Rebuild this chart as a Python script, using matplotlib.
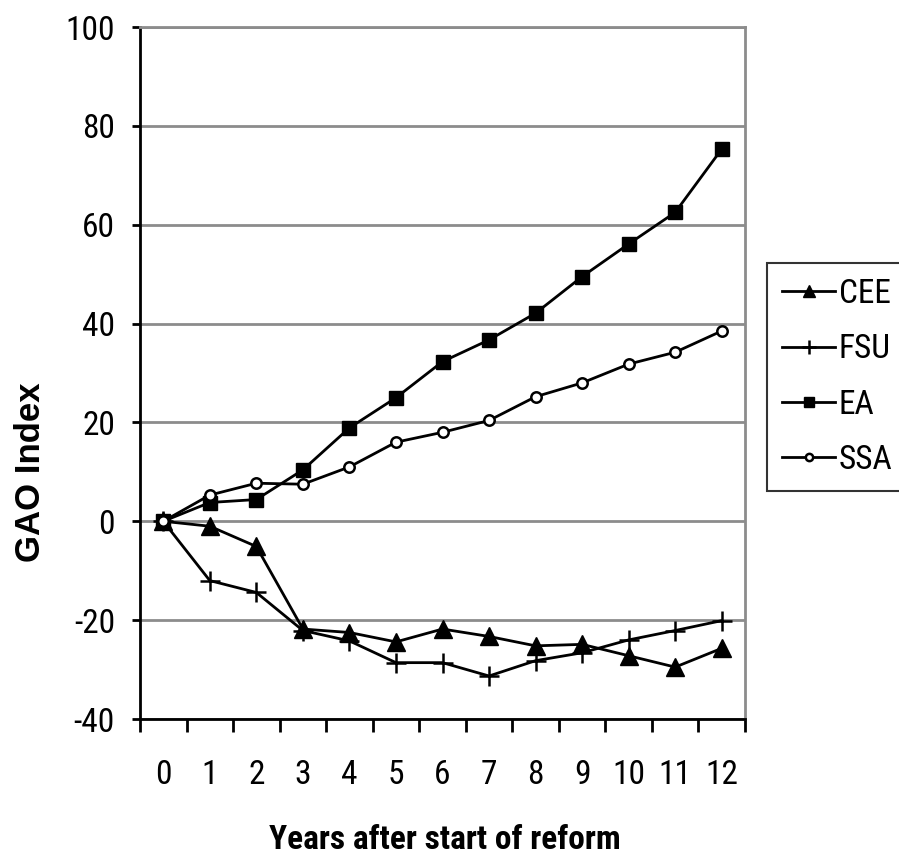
import matplotlib
matplotlib.use("Agg")
import matplotlib.pyplot as plt
import numpy as np

# data
years = list(range(13))
cee = [0, -1.0, -5.1, -21.8, -22.5, -24.4, -21.8, -23.3, -25.2, -24.9, -27.2, -29.5, -25.7]
fsu = [0, -12.0, -14.4, -22.1, -24.2, -28.6, -28.6, -31.3, -28.2, -26.6, -24.0, -22.1, -20.1]
ea = [0, 3.8, 4.4, 10.4, 18.9, 25.0, 32.3, 36.7, 42.1, 49.5, 56.1, 62.5, 75.3]
ssa = [0, 5.3, 7.7, 7.5, 11.0, 16.0, 18.0, 20.4, 25.2, 28.0, 31.8, 34.2, 38.5]
y_ticks = [-40, -20, 0, 20, 40, 60, 80, 100]

narrow = ["Liberation Sans Narrow", "Roboto Condensed", "Archivo Narrow", "Liberation Sans", "DejaVu Sans"]
plt.rcParams["font.family"] = narrow
plt.rcParams["axes.unicode_minus"] = False

fig = plt.figure(figsize=(8.99, 8.57), dpi=100)
ax = fig.add_axes([140 / 899, 1 - 719 / 857, 605 / 899, 692 / 857])

ax.plot(years, cee, color="black", lw=2, marker="^", ms=13, mfc="black", mec="black", label="CEE")
ax.plot(years, fsu, color="black", lw=2, marker="+", ms=15, mew=1.8, label="FSU")
ax.plot(years, ea, color="black", lw=2, marker="s", ms=10.5, mfc="black", mec="black", label="EA")
ax.plot(years, ssa, color="black", lw=2, marker="o", ms=7.5, mfc="white", mec="black", mew=1.8, label="SSA")

ax.set_xlim(-0.5, 12.5)
ax.set_ylim(-40, 100)
ax.set_yticks(y_ticks)
ax.set_xticks(years)
ax.set_xticklabels([str(y) for y in years])
ax.set_xticks(np.arange(-0.5, 13, 1), minor=True)

ax.yaxis.grid(True, color="#8c8c8c", lw=2)
ax.set_axisbelow(True)

ax.tick_params(axis="x", which="major", length=0, pad=29, labelsize=24)
ax.tick_params(axis="x", which="minor", length=9, width=2, direction="out")
ax.tick_params(axis="y", which="major", length=6, width=2, pad=12, labelsize=24)

for side in ["left", "bottom"]:
    ax.spines[side].set_color("black")
    ax.spines[side].set_linewidth(2)
for side in ["right", "top"]:
    ax.spines[side].set_color("#8c8c8c")
    ax.spines[side].set_linewidth(2)

fig.text(445 / 899, 1 - 840 / 857, "Years after start of reform", ha="center", va="center",
         fontsize=24, fontweight="bold", family=narrow)
fig.text(31 / 899, 1 - 472 / 857, "GAO Index", ha="center", va="center", rotation=90,
         fontsize=25, fontweight="bold", family=["Liberation Sans", "DejaVu Sans"])

leg = fig.legend(loc="center left", bbox_to_anchor=(767 / 899, 1 - 377 / 857),
                 fontsize=24, frameon=True, fancybox=False, handlelength=1.6,
                 handletextpad=0.1, labelspacing=0.7, borderpad=0.45, borderaxespad=0,
                 markerscale=0.7)
leg.get_frame().set_edgecolor("black")
leg.get_frame().set_linewidth(1.5)

fig.savefig("out.png", dpi=100)
